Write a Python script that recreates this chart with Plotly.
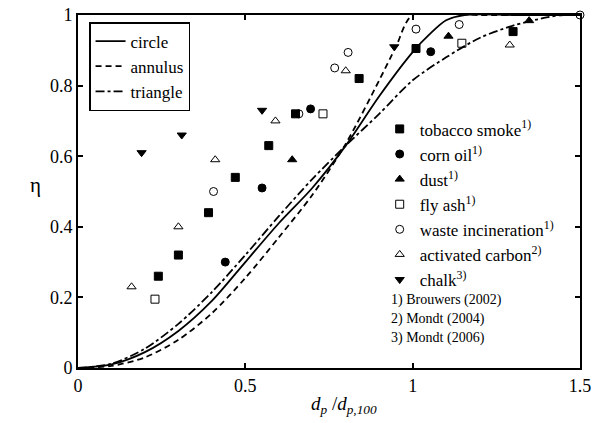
import plotly.graph_objects as go

# --- model curves ---
circle_x = [0, 0.1, 0.2, 0.3, 0.4, 0.5, 0.6, 0.7, 0.8, 0.9, 1.0, 1.05, 1.1, 1.155, 1.3, 1.5]
circle_y = [0, 0.01, 0.045, 0.105, 0.19, 0.30, 0.41, 0.51, 0.63, 0.77, 0.895, 0.945, 0.985, 1.0, 1.0, 1.0]

annulus_x = [0, 0.1, 0.2, 0.3, 0.4, 0.5, 0.6, 0.7, 0.8, 0.9, 0.95, 1.0, 1.2, 1.5]
annulus_y = [0, 0.006, 0.03, 0.08, 0.155, 0.255, 0.37, 0.49, 0.635, 0.815, 0.91, 1.0, 1.0, 1.0]

triangle_x = [0, 0.1, 0.2, 0.3, 0.4, 0.5, 0.6, 0.7, 0.8, 0.9, 1.0, 1.1, 1.2, 1.3, 1.4, 1.45, 1.5]
triangle_y = [0, 0.012, 0.055, 0.125, 0.215, 0.32, 0.43, 0.535, 0.63, 0.72, 0.815, 0.88, 0.935, 0.97, 0.993, 1.0, 1.0]

# --- measurements ---
tobacco_x = [0.24, 0.30, 0.39, 0.47, 0.57, 0.65, 0.84, 1.01, 1.30]
tobacco_y = [0.26, 0.32, 0.44, 0.54, 0.63, 0.72, 0.82, 0.905, 0.953]

corn_x = [0.44, 0.55, 0.695, 1.054]
corn_y = [0.30, 0.51, 0.734, 0.896]

dust_x = [0.64, 1.107, 1.348]
dust_y = [0.59, 0.94, 0.984]

flyash_x = [0.23, 0.732, 1.147]
flyash_y = [0.195, 0.72, 0.92]

waste_x = [0.405, 0.66, 0.767, 0.807, 1.01, 1.139, 1.5]
waste_y = [0.50, 0.72, 0.85, 0.894, 0.96, 0.973, 1.0]

carbon_x = [0.16, 0.30, 0.41, 0.59, 0.80, 1.29]
carbon_y = [0.23, 0.40, 0.59, 0.70, 0.842, 0.915]

chalk_x = [0.19, 0.31, 0.55, 0.945]
chalk_y = [0.61, 0.66, 0.73, 0.91]

FONT = "Liberation Serif"

fig = go.Figure()

for name, xs, ys, dash in [
    ("circle", circle_x, circle_y, "solid"),
    ("annulus", annulus_x, annulus_y, "6px,4px"),
    ("triangle", triangle_x, triangle_y, "dashdot"),
]:
    fig.add_trace(go.Scatter(
        x=xs, y=ys, mode="lines", name=name,
        line=dict(color="black", width=1.8, dash=dash, shape="spline", smoothing=0.8),
        legend="legend",
    ))

series = [
    ("tobacco smoke<sup>1)</sup>", tobacco_x, tobacco_y, "square", 8),
    ("corn oil<sup>1)</sup>", corn_x, corn_y, "circle", 8),
    ("dust<sup>1)</sup>", dust_x, dust_y, "triangle-up", 8),
    ("fly ash<sup>1)</sup>", flyash_x, flyash_y, "square-open", 8),
    ("waste incineration<sup>1)</sup>", waste_x, waste_y, "circle-open", 8),
    ("activated carbon<sup>2)</sup>", carbon_x, carbon_y, "triangle-up-open", 8),
    ("chalk<sup>3)</sup>", chalk_x, chalk_y, "triangle-down", 8),
]
for name, xs, ys, sym, sz in series:
    fig.add_trace(go.Scatter(
        x=xs, y=ys, mode="markers", name=name, cliponaxis=False,
        marker=dict(symbol=sym, size=sz, color="black", line=dict(color="black", width=1)),
        legend="legend2",
    ))

axis_common = dict(
    showline=True, linecolor="black", linewidth=2, mirror="ticks",
    ticks="inside", ticklen=5, tickwidth=1.5, tickcolor="black",
    showgrid=False, zeroline=False, automargin=False,
    tickfont=dict(family=FONT, size=18, color="black"),
)

fig.update_layout(
    width=592, height=423,
    margin=dict(l=78, r=12, t=15, b=55),
    paper_bgcolor="white", plot_bgcolor="white",
    font=dict(family=FONT, size=18, color="black"),
    xaxis=dict(range=[0, 1.5], tickvals=[0, 0.5, 1, 1.5], ticktext=["0", "0.5", "1", "1.5"], **axis_common),
    yaxis=dict(range=[0, 1], tickvals=[0, 0.2, 0.4, 0.6, 0.8, 1], ticktext=["0", "0.2", "0.4", "0.6", "0.8", "1"], **axis_common),
    legend=dict(x=0.022, y=0.98, xanchor="left", yanchor="top",
                bordercolor="black", borderwidth=1.5, bgcolor="white",
                font=dict(family=FONT, size=17, color="black"), tracegroupgap=0, itemwidth=30),
    legend2=dict(x=0.601, y=0.727, xanchor="left", yanchor="top",
                 bgcolor="rgba(0,0,0,0)", borderwidth=0,
                 font=dict(family=FONT, size=17, color="black"), tracegroupgap=0, itemwidth=30),
    showlegend=True,
)

for i, txt in enumerate(["1) Brouwers (2002)", "2) Mondt (2004)", "3) Mondt (2006)"]):
    fig.add_annotation(x=0.62, y=0.193 - i * 0.054, xref="paper", yref="paper",
                       text=txt, showarrow=False, xanchor="left", yanchor="middle",
                       font=dict(family=FONT, size=14, color="black"))

fig.add_annotation(x=-0.1, y=0.517, xref="paper", yref="paper", text="η", showarrow=False,
                   font=dict(family=FONT, size=21, color="black"))
fig.add_annotation(x=0.53, y=-0.105, xref="paper", yref="paper",
                   text="<i>d<sub>p</sub></i> /<i>d<sub>p,100</sub></i>", showarrow=False,
                   yanchor="middle", font=dict(family=FONT, size=19, color="black"))

fig.write_html("out.html")
